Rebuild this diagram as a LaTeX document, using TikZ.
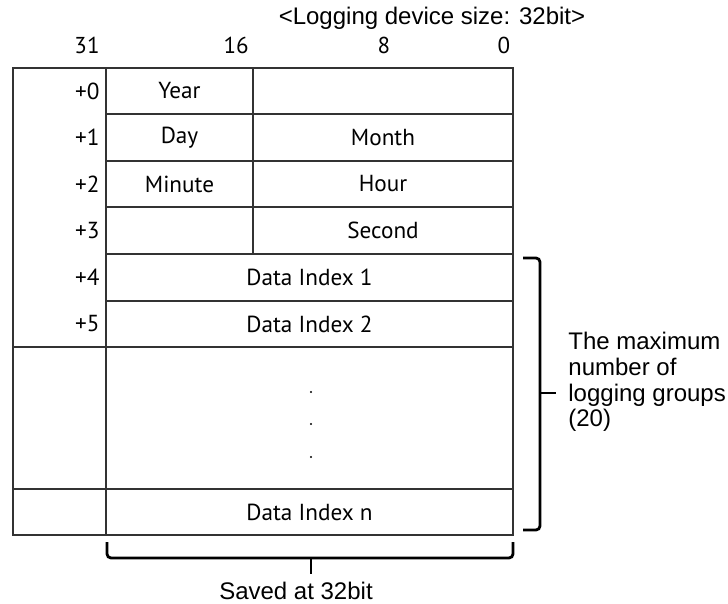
\documentclass[tikz,border=0pt]{standalone}
\usepackage{fontspec}
\setmainfont{Liberation Sans}
\newfontfamily\cellfont{PT Sans}
\usetikzlibrary{positioning}

\begin{document}
\begin{tikzpicture}[x=0.5pt, y=-0.5pt,
    % --- Styles ---
    grid/.style={draw=black!80, line width=0.55pt},
    cell/.style={font=\cellfont\fontsize{11.6}{13}\selectfont, inner sep=0pt},
    offs/.style={cell, anchor=east},
    bits/.style={font=\cellfont\fontsize{11.5}{13}\selectfont, inner sep=0pt},
    note/.style={font=\fontsize{12}{12.8}\selectfont, inner sep=0pt},
    bracket/.style={line width=1.4pt, rounded corners=2pt},
]
\useasboundingbox (0,0) rectangle (728,604);

% === Title and bit positions ===
\node[note] (title) at (432,18) {<Logging device size: 32bit>};
\node[bits] (b31) at (87,45) {31};
\node[bits, anchor=east] (b16) at (249,45) {16};
\node[bits] (b8) at (384,45) {8};
\node[bits] (b0) at (504,45) {0};

% === Table lines ===
\draw[grid] (13,68) rectangle (513,535);
\draw[grid] (106,68) -- (106,535);
\draw[grid] (253,68) -- (253,254);
\foreach \y in {114,161,207,254,301}
    \draw[grid] (106,\y) -- (513,\y);
\draw[grid] (13,347) -- (513,347);
\draw[grid] (13,489) -- (513,489);

% === Offsets ===
\node[offs] (o0) at (100,91) {+0};
\node[offs] (o1) at (100,137.5) {+1};
\node[offs] (o2) at (100,184) {+2};
\node[offs] (o3) at (100,230.5) {+3};
\node[offs] (o4) at (100,277.5) {+4};
\node[offs] (o5) at (100,324) {+5};

% === Fields ===
\node[cell] (year)   at (179.5,91)    {Year};
\node[cell] (day)    at (179.5,137.5) {Day};
\node[cell] (month)  at (383,137.5)   {Month};
\node[cell] (minute) at (179.5,184)   {Minute};
\node[cell] (hour)   at (383,184)     {Hour};
\node[cell] (second) at (383,230.5)   {Second};
\node[cell] (idx1)   at (309.5,277.5) {Data Index 1};
\node[cell] (idx2)   at (309.5,324)   {Data Index 2};
\node[cell] (idxn)   at (309.5,512)   {Data Index n};
\foreach \y in {392,424,457}
    \fill (311,\y) circle (0.55pt);

% === Brackets ===
\draw[bracket] (523,258) -- (540,258) -- (540,530) -- (523,530);
\draw[bracket] (540,393) -- (556,393);
\node[note, anchor=west, align=left] (maxgrp) at (568,382)
    {The maximum\\number of\\logging groups\\(20)};

\draw[bracket] (107,542) -- (107,558) -- (513,558) -- (513,542);
\draw[bracket] (311,558) -- (311,574);
\node[note] (saved) at (296,591) {Saved at 32bit};

\end{tikzpicture}
\end{document}
